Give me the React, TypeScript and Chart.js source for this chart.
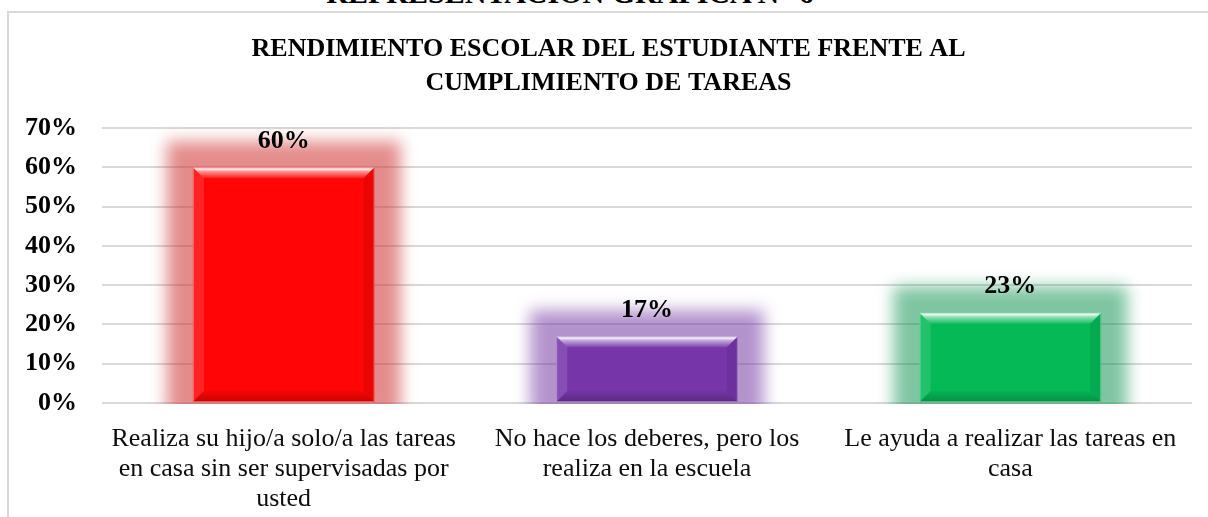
import React, { useEffect, useRef } from 'react';
import { Chart, registerables } from 'chart.js';

Chart.register(...registerables);

// ---- Data ----
const categories: string[][] = [
  ['Realiza su hijo/a solo/a las tareas', 'en casa sin ser supervisadas por', 'usted'],
  ['No hace los deberes, pero los', 'realiza en la escuela'],
  ['Le ayuda a realizar las tareas en', 'casa'],
];
const values: number[] = [60, 17, 23];
const barColors: string[] = ['#FF0505', '#7636AA', '#05B957'];
const glowColors: string[] = ['rgba(205,45,45,0.55)', 'rgba(112,48,160,0.52)', 'rgba(0,140,70,0.5)'];
const titleLines: string[] = ['RENDIMIENTO ESCOLAR DEL ESTUDIANTE FRENTE AL', 'CUMPLIMIENTO DE TAREAS'];
const headerText = 'REPRESENTACIÓN GRÁFICA N° 6';
const yMin = 0;
const yMax = 70;
const yStep = 10;

const FONT = '"Liberation Serif", "Times New Roman", serif';

const glowPlugin = {
  id: 'glow',
  beforeDatasetsDraw(chart: any) {
    const ctx = chart.ctx;
    const area = chart.chartArea;
    const meta = chart.getDatasetMeta(0);
    ctx.save();
    ctx.beginPath();
    ctx.rect(area.left - 60, area.top - 80, area.right - area.left + 120, area.bottom - area.top + 81);
    ctx.clip();
    meta.data.forEach((bar: any, i: number) => {
      const { x, y, base, width } = bar.getProps(['x', 'y', 'base', 'width'], true);
      const e = 26;
      ctx.filter = 'blur(8px)';
      ctx.fillStyle = glowColors[i % glowColors.length];
      ctx.fillRect(x - width / 2 - e, y - e, width + 2 * e, base - y + e + 14);
    });
    ctx.restore();
  },
};

const bevelPlugin = {
  id: 'bevel',
  afterDatasetsDraw(chart: any) {
    const ctx = chart.ctx;
    const meta = chart.getDatasetMeta(0);
    meta.data.forEach((bar: any, i: number) => {
      const { x, y, base, width } = bar.getProps(['x', 'y', 'base', 'width'], true);
      const x0 = x - width / 2;
      const x1 = x + width / 2;
      const y0 = y;
      const y1 = base;
      const b = 11;
      ctx.save();
      // top bevel
      let g = ctx.createLinearGradient(0, y0, 0, y0 + b);
      g.addColorStop(0, 'rgba(255,255,255,0.35)');
      g.addColorStop(0.15, 'rgba(255,255,255,0.95)');
      g.addColorStop(0.4, 'rgba(255,255,255,0.55)');
      g.addColorStop(1, 'rgba(255,255,255,0.08)');
      ctx.fillStyle = g;
      ctx.beginPath();
      ctx.moveTo(x0, y0);
      ctx.lineTo(x1, y0);
      ctx.lineTo(x1 - b, y0 + b);
      ctx.lineTo(x0 + b, y0 + b);
      ctx.closePath();
      ctx.fill();
      // bottom bevel
      g = ctx.createLinearGradient(0, y1 - b, 0, y1);
      g.addColorStop(0, 'rgba(0,0,0,0.04)');
      g.addColorStop(1, 'rgba(0,0,0,0.22)');
      ctx.fillStyle = g;
      ctx.beginPath();
      ctx.moveTo(x0, y1);
      ctx.lineTo(x1, y1);
      ctx.lineTo(x1 - b, y1 - b);
      ctx.lineTo(x0 + b, y1 - b);
      ctx.closePath();
      ctx.fill();
      // left bevel
      ctx.fillStyle = 'rgba(255,255,255,0.12)';
      ctx.beginPath();
      ctx.moveTo(x0, y0);
      ctx.lineTo(x0 + b, y0 + b);
      ctx.lineTo(x0 + b, y1 - b);
      ctx.lineTo(x0, y1);
      ctx.closePath();
      ctx.fill();
      // right bevel
      ctx.fillStyle = 'rgba(0,0,0,0.08)';
      ctx.beginPath();
      ctx.moveTo(x1, y0);
      ctx.lineTo(x1 - b, y0 + b);
      ctx.lineTo(x1 - b, y1 - b);
      ctx.lineTo(x1, y1);
      ctx.closePath();
      ctx.fill();
      // outline
      ctx.strokeStyle = 'rgba(255,255,255,0.35)';
      ctx.lineWidth = 1;
      ctx.strokeRect(x0 + 0.5, y0 + 0.5, width - 1, y1 - y0 - 1);
      ctx.restore();

      // data label
      ctx.save();
      ctx.fillStyle = '#000';
      ctx.font = `bold 26px ${FONT}`;
      ctx.textAlign = 'center';
      ctx.textBaseline = 'middle';
      ctx.fillText(`${values[i]}%`, x, y0 - 26);
      ctx.restore();
    });
  },
};

export default function App() {
  const canvasRef = useRef<HTMLCanvasElement | null>(null);

  useEffect(() => {
    const canvas = canvasRef.current;
    if (!canvas) return;
    const chart = new Chart(canvas, {
      type: 'bar',
      data: {
        labels: categories,
        datasets: [
          {
            data: values,
            backgroundColor: barColors,
            borderWidth: 0,
            categoryPercentage: 1,
            barPercentage: 0.5,
          },
        ],
      },
      options: {
        responsive: false,
        animation: false,
        devicePixelRatio: 1,
        layout: { padding: { left: 16, right: 27, top: 0, bottom: 20 } },
        plugins: {
          legend: { display: false },
          tooltip: { enabled: false },
          title: {
            display: true,
            text: titleLines,
            color: '#000',
            font: { family: FONT, size: 26, weight: 'bold', lineHeight: 34 / 26 },
            padding: { top: 19, bottom: 28 },
          },
        },
        scales: {
          x: {
            grid: { display: false, drawTicks: false },
            border: { display: false },
            ticks: {
              color: '#0d0d0d',
              font: { family: FONT, size: 26, lineHeight: 30 / 26 },
              padding: 21,
              maxRotation: 0,
              minRotation: 0,
              autoSkip: false,
            },
            afterFit: (scale: any) => {
              scale.paddingLeft = 0;
              scale.paddingRight = 0;
            },
          },
          y: {
            min: yMin,
            max: yMax,
            ticks: {
              stepSize: yStep,
              callback: (v: any) => `${v}%`,
              color: '#000',
              font: { family: FONT, size: 26, weight: 'bold' },
              padding: 25,
            },
            grid: { color: '#d9d9d9', lineWidth: 2, drawTicks: false },
            border: { display: false },
            afterFit: (scale: any) => {
              scale.width = 77;
            },
          },
        },
      },
      plugins: [glowPlugin, bevelPlugin],
    } as any);
    return () => chart.destroy();
  }, []);

  return (
    <div
      style={{
        position: 'fixed',
        left: 0,
        top: 0,
        width: 1208,
        height: 517,
        overflow: 'hidden',
        background: '#fff',
      }}
    >
      <div
        style={{
          position: 'absolute',
          left: 0,
          top: -22,
          width: 1140,
          textAlign: 'center',
          fontFamily: FONT,
          fontWeight: 'bold',
          fontSize: 30,
          lineHeight: '30px',
          whiteSpace: 'nowrap',
          color: '#000',
        }}
      >
        {headerText}
      </div>
      <div
        style={{
          position: 'absolute',
          left: 7,
          top: 11,
          width: 1230,
          height: 560,
          border: '2px solid #d9d9d9',
          background: '#fff',
        }}
      >
        <canvas ref={canvasRef} width={1210} height={542} style={{ display: 'block', width: 1210, height: 542 }} />
      </div>
    </div>
  );
}
